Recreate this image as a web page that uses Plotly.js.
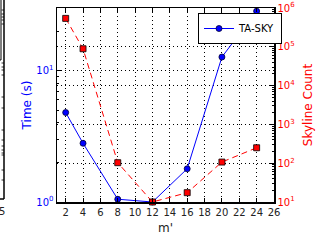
<!DOCTYPE html>
<html>
<head>
<meta charset="utf-8">
<script src="https://cdn.plot.ly/plotly-3.0.1.min.js"></script>
<style>html,body{margin:0;padding:0;background:#fff;}#chart{width:328px;height:245px;}</style>
</head>
<body>
<div id="chart"></div>
<script>
// Data
var mValues = [2, 4, 8, 12, 16, 20, 24];
var timeSeconds = [4.8, 2.8, 1.05, 1.0, 1.79, 12.7, 28.4];
var skylineCount = [540000, 89000, 103, 10, 17.4, 107, 250];
var xTickVals = [2, 4, 6, 8, 10, 12, 14, 16, 18, 20, 22, 24, 26];
var leftTickVals = [1, 10];
var leftTickText = ['10<sup>0</sup>', '10<sup>1</sup>'];
var rightTickVals = [10, 100, 1000, 10000, 100000, 1000000];
var rightTickText = ['10<sup>1</sup>', '10<sup>2</sup>', '10<sup>3</sup>', '10<sup>4</sup>', '10<sup>5</sup>', '10<sup>6</sup>'];

function minorLog(lo, hi) {
  var out = [];
  for (var d = lo; d < hi; d++) {
    for (var k = 2; k <= 9; k++) out.push(k * Math.pow(10, d));
  }
  return out;
}

var W = 328, H = 245, L = 57, R = 54, T = 8, B = 43;
var pw = W - L - R, ph = H - T - B;
function px(x) { return (x - L) / pw; }
function py(y) { return (H - B - y) / ph; }

var font = 'DejaVu Sans, sans-serif';
var gridDash = '1px,3px';

var traces = [
  {
    x: mValues, y: skylineCount, yaxis: 'y2', name: 'Skyline Count',
    mode: 'lines+markers', showlegend: false, cliponaxis: false,
    line: {color: 'red', width: 1, dash: '6px,4px'},
    marker: {symbol: 'square', size: 6, color: 'red', line: {color: 'black', width: 0.8}}
  },
  {
    x: mValues, y: timeSeconds, yaxis: 'y', name: 'TA-SKY',
    mode: 'lines+markers', cliponaxis: false,
    line: {color: 'blue', width: 1},
    marker: {symbol: 'circle', size: 6, color: 'blue', line: {color: '#000033', width: 0.8}}
  }
];

// fragment of the neighbouring subplot on the far left
var shapes = [
  {type: 'line', xref: 'paper', yref: 'paper', x0: px(4), x1: px(4), y0: py(0), y1: py(199), line: {color: 'black', width: 1.5}},
  {type: 'line', xref: 'paper', yref: 'paper', x0: px(0), x1: px(4), y0: py(199), y1: py(199), line: {color: 'black', width: 1.5}},
  {type: 'line', xref: 'paper', yref: 'paper', x0: px(1), x1: px(1), y0: py(0), y1: py(60), line: {color: 'black', width: 1}},
  {type: 'line', xref: 'paper', yref: 'paper', x0: px(0), x1: px(1), y0: py(60), y1: py(60), line: {color: 'black', width: 1}}
];
var fragTicks = [10, 14, 17, 20, 24, 63, 67, 70, 75, 97, 108, 130, 140, 146, 150, 153, 155, 170, 180];
fragTicks.forEach(function (ty) {
  shapes.push({type: 'line', xref: 'paper', yref: 'paper', x0: px(1.5), x1: px(4), y0: py(ty), y1: py(ty), line: {color: 'black', width: 0.8}});
});

var layout = {
  width: W, height: H,
  margin: {l: L, r: R, t: T, b: B},
  paper_bgcolor: 'white', plot_bgcolor: 'white',
  font: {family: font, size: 10, color: 'black'},
  showlegend: true,
  legend: {
    x: px(198), y: py(13), xanchor: 'left', yanchor: 'top',
    bgcolor: 'white', bordercolor: 'black', borderwidth: 1,
    font: {family: font, size: 10, color: 'black'},
    tracegroupgap: 0, itemwidth: 30
  },
  xaxis: {
    range: [1, 26], tickvals: xTickVals, ticks: 'inside', ticklen: 4, tickcolor: 'black',
    showline: true, linecolor: 'black', linewidth: 1.5, mirror: 'ticks',
    showgrid: true, gridcolor: 'black', griddash: gridDash, gridwidth: 1,
    zeroline: false,
    tickfont: {family: font, size: 10, color: '#222'},
    title: {text: "m'", font: {family: font, size: 12, color: '#222'}, standoff: 7}
  },
  yaxis: {
    type: 'log', range: [0, Math.log10(30)],
    tickvals: leftTickVals, ticktext: leftTickText,
    ticks: 'inside', ticklen: 4, tickcolor: 'black',
    minor: {tickvals: minorLog(0, 2), ticks: 'inside', ticklen: 2, tickcolor: 'black', showgrid: false},
    showline: true, linecolor: 'black', linewidth: 1.5,
    showgrid: true, gridcolor: 'black', griddash: gridDash, gridwidth: 1,
    zeroline: false,
    tickfont: {family: font, size: 10, color: 'blue'},
    title: {text: 'Time (s)', font: {family: font, size: 12, color: 'blue'}, standoff: 2}
  },
  yaxis2: {
    type: 'log', range: [1, 6], overlaying: 'y', side: 'right',
    tickvals: rightTickVals, ticktext: rightTickText,
    ticks: 'inside', ticklen: 4, tickcolor: 'black',
    minor: {tickvals: minorLog(1, 6), ticks: 'inside', ticklen: 2, tickcolor: 'black', showgrid: false},
    showline: true, linecolor: 'black', linewidth: 1.5,
    showgrid: true, gridcolor: 'black', griddash: gridDash, gridwidth: 1,
    zeroline: false,
    tickfont: {family: font, size: 10, color: 'red'},
    title: {text: 'Skyline Count', font: {family: font, size: 12, color: 'red'}, standoff: 9}
  },
  shapes: shapes,
  annotations: [
    {xref: 'paper', yref: 'paper', x: px(2), y: py(211), text: '5', showarrow: false,
     xanchor: 'center', yanchor: 'middle', font: {family: font, size: 10, color: '#222'}}
  ]
};

Plotly.newPlot('chart', traces, layout, {staticPlot: true, displayModeBar: false});
</script>
</body>
</html>
